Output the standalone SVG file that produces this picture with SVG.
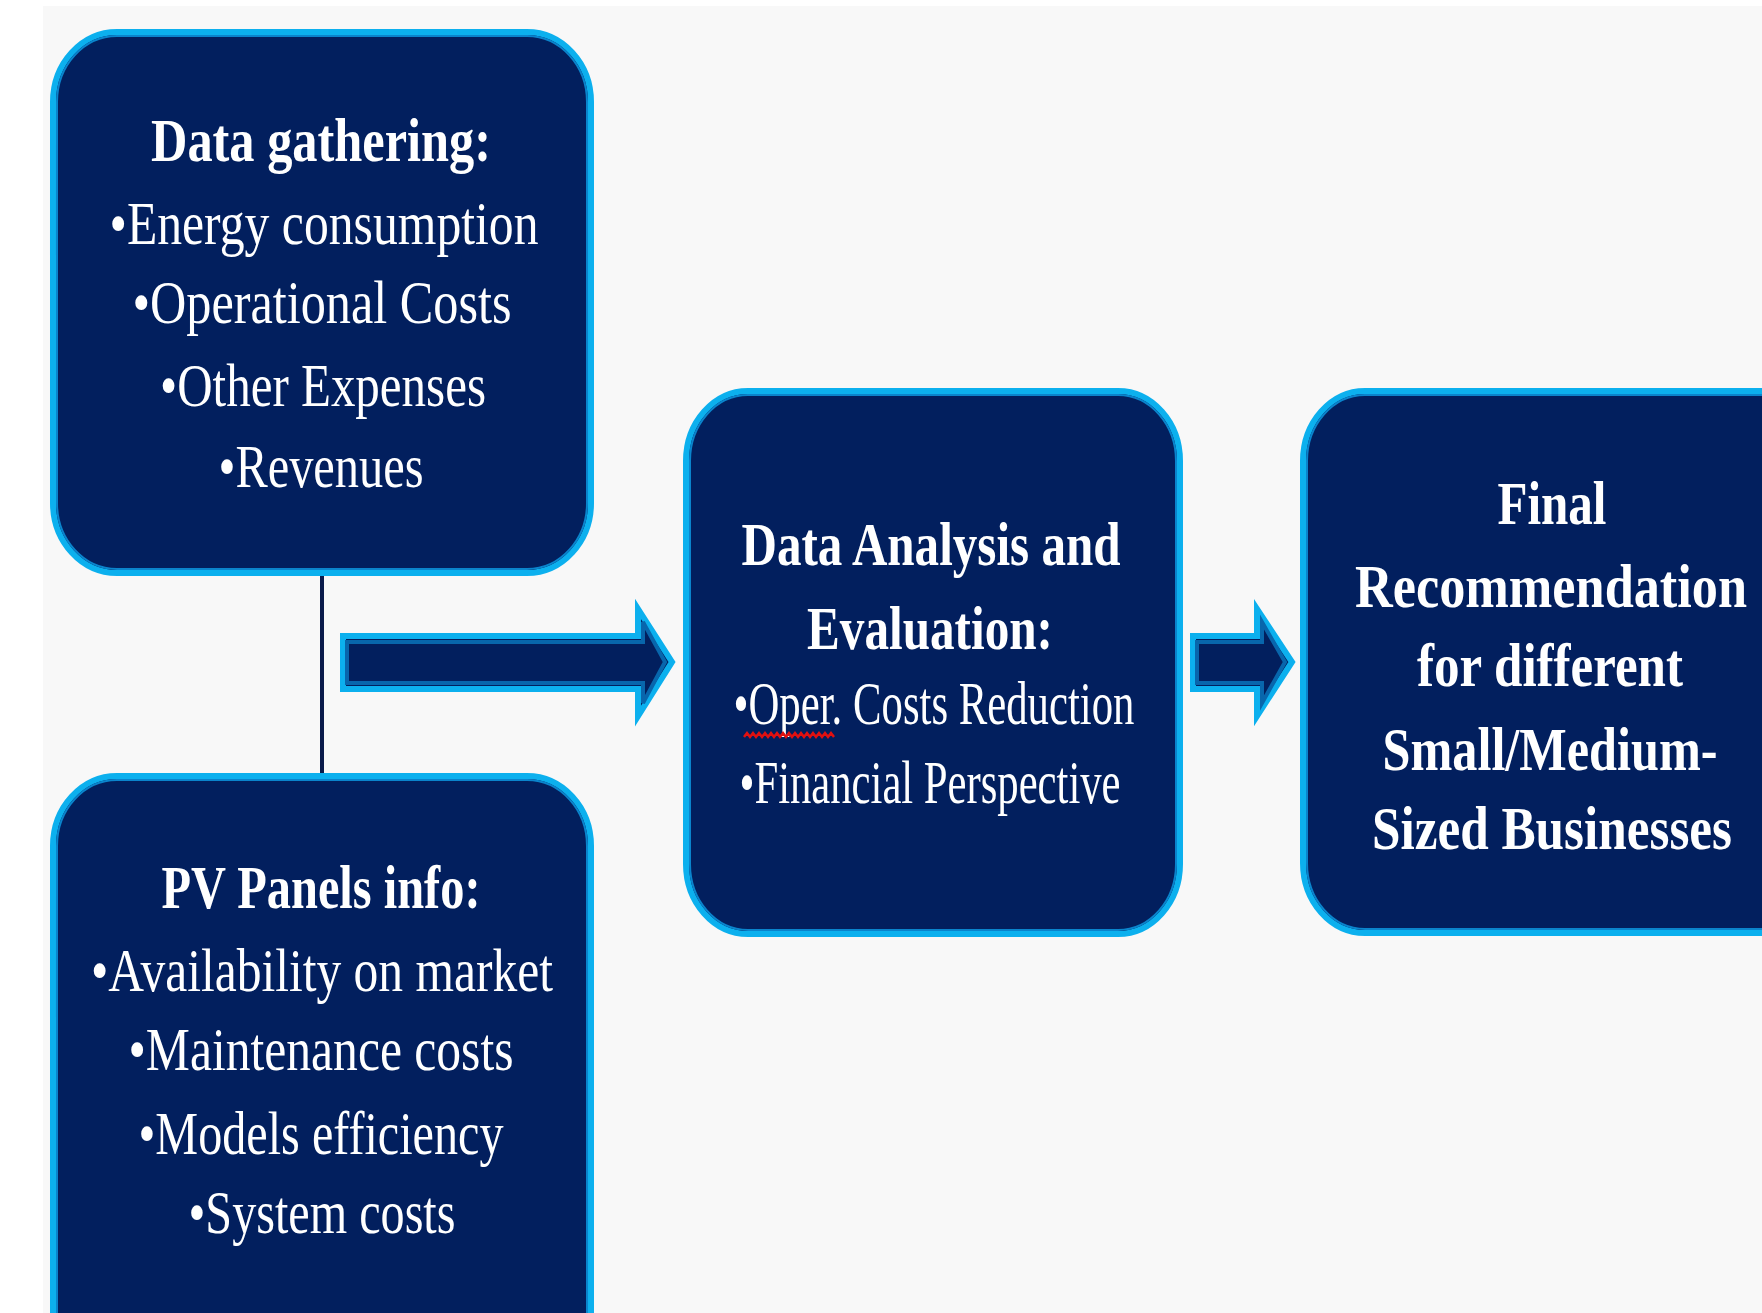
<svg xmlns="http://www.w3.org/2000/svg" width="1762" height="1313" viewBox="0 0 1762 1313">
  <style>
    .box { fill: #021f5e; stroke: #0cb0ee; stroke-width: 6; }
    .inner { fill: none; stroke: #0a84cc; stroke-width: 2; }
    .arrow { fill: #021f5e; stroke: #0cb0ee; stroke-width: 6; stroke-linejoin: miter; }
    .arrow-in { fill: none; stroke: #0866ac; stroke-width: 4; stroke-linejoin: miter; }
    .t { font-family: "Liberation Serif", "Times New Roman", serif; font-size: 62px; fill: #ffffff; text-anchor: middle; }
    .b { font-weight: bold; }
    .link { stroke: #0a1a4a; stroke-width: 4; fill: none; }
  </style>

  <!-- page background -->
  <rect x="0" y="0" width="1762" height="1313" fill="#ffffff"/>
  <rect x="43" y="6" width="1719" height="1307" fill="#f8f8f8"/>

  <!-- connectors -->
  <g id="connectors">
    <line class="link" x1="322" y1="576" x2="322" y2="776"/>
    <g id="arrow-1">
      <polygon class="arrow" points="343,636 638,636 638,609 672,662 638,716 638,689 343,689"/>
      <polygon class="arrow-in" points="347,642 643,642 643,622 665,662 643,703 643,683 347,683"/>
    </g>
    <g id="arrow-2">
      <polygon class="arrow" points="1193,636 1257,636 1257,609 1292,662 1257,716 1257,689 1193,689"/>
      <polygon class="arrow-in" points="1197,642 1262,642 1262,622 1285,662 1262,703 1262,683 1197,683"/>
    </g>
  </g>

  <!-- data gathering -->
  <g id="node-data-gathering">
    <rect class="box" x="53" y="32" width="538" height="541" rx="64" ry="70"/>
    <rect class="inner" x="57" y="36" width="530" height="533" rx="60" ry="66"/>
    <text class="t b" x="321" y="161" textLength="340" lengthAdjust="spacingAndGlyphs">Data gathering:</text>
    <text class="t" x="324" y="244" textLength="429" lengthAdjust="spacingAndGlyphs">•Energy consumption</text>
    <text class="t" x="322" y="323" textLength="379" lengthAdjust="spacingAndGlyphs">•Operational Costs</text>
    <text class="t" x="323" y="406" textLength="326" lengthAdjust="spacingAndGlyphs">•Other Expenses</text>
    <text class="t" x="321" y="487" textLength="205" lengthAdjust="spacingAndGlyphs">•Revenues</text>
  </g>

  <!-- PV panels info -->
  <g id="node-pv-panels">
    <rect class="box" x="53" y="776" width="538" height="620" rx="64" ry="70"/>
    <rect class="inner" x="57" y="780" width="530" height="612" rx="60" ry="66"/>
    <text class="t b" x="321" y="908" textLength="319" lengthAdjust="spacingAndGlyphs">PV Panels info:</text>
    <text class="t" x="322" y="991" textLength="462" lengthAdjust="spacingAndGlyphs">•Availability on market</text>
    <text class="t" x="321" y="1070" textLength="385" lengthAdjust="spacingAndGlyphs">•Maintenance costs</text>
    <text class="t" x="321" y="1154" textLength="365" lengthAdjust="spacingAndGlyphs">•Models efficiency</text>
    <text class="t" x="322" y="1233" textLength="267" lengthAdjust="spacingAndGlyphs">•System costs</text>
  </g>

  <!-- analysis and evaluation -->
  <g id="node-analysis">
    <rect class="box" x="686" y="391" width="494" height="543" rx="62" ry="70"/>
    <rect class="inner" x="690" y="395" width="486" height="535" rx="58" ry="66"/>
    <text class="t b" x="931" y="565" textLength="379" lengthAdjust="spacingAndGlyphs">Data Analysis and</text>
    <text class="t b" x="930" y="649" textLength="246" lengthAdjust="spacingAndGlyphs">Evaluation:</text>
    <text class="t" x="934" y="724" textLength="401" lengthAdjust="spacingAndGlyphs">•Oper. Costs Reduction</text>
    <path d="M744,737 l3,-4 l3,4 l3,-4 l3,4 l3,-4 l3,4 l3,-4 l3,4 l3,-4 l3,4 l3,-4 l3,4 l3,-4 l3,4 l3,-4 l3,4 l3,-4 l3,4 l3,-4 l3,4 l3,-4 l3,4 l3,-4 l3,4 l3,-4 l3,4 l3,-4 l3,4 l3,-4 l3,4" fill="none" stroke="#e01010" stroke-width="2.5"/>
    <text class="t" x="930" y="803" textLength="381" lengthAdjust="spacingAndGlyphs">•Financial Perspective</text>
  </g>

  <!-- final recommendation -->
  <g id="node-recommendation">
    <rect class="box" x="1303" y="391" width="540" height="542" rx="62" ry="70"/>
    <rect class="inner" x="1307" y="395" width="532" height="534" rx="58" ry="66"/>
    <text class="t b" x="1552" y="524" textLength="109" lengthAdjust="spacingAndGlyphs">Final</text>
    <text class="t b" x="1551" y="607" textLength="392" lengthAdjust="spacingAndGlyphs">Recommendation</text>
    <text class="t b" x="1550" y="686" textLength="266" lengthAdjust="spacingAndGlyphs">for different</text>
    <text class="t b" x="1550" y="770" textLength="335" lengthAdjust="spacingAndGlyphs">Small/Medium-</text>
    <text class="t b" x="1552" y="849" textLength="360" lengthAdjust="spacingAndGlyphs">Sized Businesses</text>
  </g>
</svg>
